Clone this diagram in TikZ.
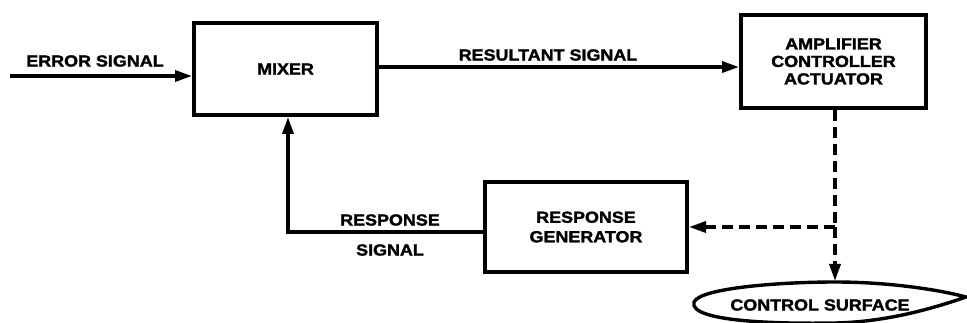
\documentclass[tikz,border=0pt]{standalone}
\usepackage{fontspec}
\newfontfamily\blk[FakeStretch=1.12,FakeBold=1.8]{Liberation Sans Bold}
\usetikzlibrary{arrows.meta}
\begin{document}
\begin{tikzpicture}[x=1pt,y=-1pt,
  lbl/.style={font=\blk\fontsize{16}{17.5}\selectfont, inner sep=0pt, align=center},
  blockbox/.style={draw, line width=4pt, rectangle, lbl},
  conn/.style={line width=3.4pt, -{Triangle[length=17pt,width=11pt]}},
  dconn/.style={conn, dash pattern=on 11pt off 6pt}]
\useasboundingbox (0,0) rectangle (967,323);
% blocks
\node[blockbox, minimum width=183pt, minimum height=92pt] (mixer) at (285.5,69) {MIXER};
\node[blockbox, minimum width=185pt, minimum height=93pt] (amp) at (833.5,61.5) {AMPLIFIER\\CONTROLLER\\ACTUATOR};
\node[blockbox, minimum width=202pt, minimum height=90pt] (resp) at (586,227) {RESPONSE\\[2pt]GENERATOR};
% control surface (airfoil)
\draw[line width=3.4pt] (694,302) .. controls (700,288) and (780,282) .. (835,282)
   .. controls (890,282) and (940,290) .. (966,297)
   .. controls (940,306) and (890,322) .. (835,323)
   .. controls (780,324) and (688,322) .. (694,302) -- cycle;
\node[lbl] (cs) at (820,305) {CONTROL SURFACE};
% coordinates
\coordinate (errstart) at (10,76);
\coordinate (cstop) at (835,281);
\coordinate (junc) at (835,227);
\coordinate (fbcorner) at (288,232);
% connectors
\draw[conn] (errstart) -- (mixer.west |- errstart);
\draw[conn] (mixer.east |- 0,67) -- (amp.west |- 0,67);
\draw[dconn, -] (amp.south -| junc) -- (junc);
\draw[dconn] (junc) -- (cstop);
\draw[dconn] (junc) -- (resp.east |- junc);
\draw[conn] (resp.west |- fbcorner) -- (fbcorner) -- (mixer.south -| fbcorner);
% labels
\node[lbl] (lerr) at (95,61) {ERROR SIGNAL};
\node[lbl] (lres) at (548,55) {RESULTANT SIGNAL};
\node[lbl] (lrsp1) at (390,220) {RESPONSE};
\node[lbl] (lrsp2) at (390,250) {SIGNAL};
\end{tikzpicture}
\end{document}
